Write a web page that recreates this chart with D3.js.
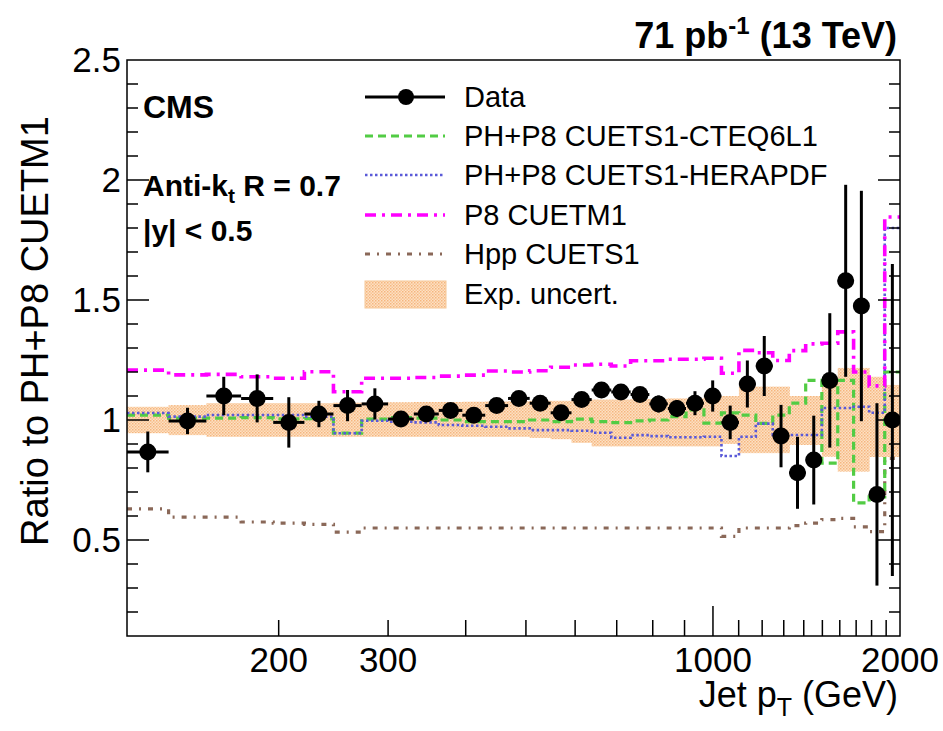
<!DOCTYPE html>
<html><head><meta charset="utf-8">
<script src="https://cdn.jsdelivr.net/npm/d3@7"></script>
<style>
html,body{margin:0;padding:0;background:#fff;}
svg{display:block;font-family:"Liberation Sans",Arial,Helvetica,sans-serif;}
</style></head>
<body><svg id="c" width="943" height="731"></svg>
<script>
// Bin edges (GeV)
const binEdges = [114,133,153,174,196,220,245,272,300,330,362,395,430,468,507,548,592,638,686,737,790,846,905,967,1032,1101,1172,1248,1327,1410,1497,1588,1684,1784,1890,2000];
// Data ratio and error
const dataRatio = [0.867,0.996,1.10,1.09,0.99,1.025,1.06,1.067,1.004,1.025,1.04,1.02,1.06,1.09,1.07,1.03,1.085,1.125,1.117,1.106,1.067,1.048,1.07,1.10,0.99,1.15,1.225,0.933,0.78,0.833,1.165,1.58,1.475,0.69,1.0];
const dataErr   = [0.085,0.055,0.08,0.10,0.105,0.055,0.065,0.065,0.03,0.03,0.03,0.03,0.03,0.03,0.03,0.03,0.03,0.03,0.03,0.03,0.035,0.035,0.05,0.065,0.07,0.098,0.125,0.13,0.15,0.185,0.28,0.40,0.48,0.38,0.65];
// MC predictions (ratio to PH+P8 CUETM1)
const cteq6l1 = [1.02,1.008,1.008,1.01,1.005,1.006,0.945,1.004,1.01,1.008,1.0,0.993,0.993,0.993,1.0,0.993,1.004,0.993,0.989,0.996,1.0,1.014,1.042,0.987,1.03,1.02,0.986,1.02,1.07,1.165,0.82,1.165,0.655,0.68,1.2];
const herapdf = [1.029,1.014,1.021,1.021,1.021,1.014,0.945,0.997,0.993,0.99,0.979,0.976,0.972,0.965,0.958,0.958,0.955,0.947,0.926,0.937,0.933,0.928,0.928,0.93,0.85,0.93,0.985,0.9375,0.9375,0.9375,1.05,1.05,1.055,1.03,1.8];
const p8cuetm1 = [1.208,1.188,1.19,1.18,1.174,1.201,1.118,1.174,1.174,1.177,1.183,1.187,1.204,1.2,1.205,1.22,1.229,1.232,1.225,1.247,1.247,1.253,1.253,1.257,1.195,1.29,1.28,1.248,1.289,1.317,1.32,1.367,1.2,1.142,1.846];
const hppcuets1 = [0.63,0.595,0.595,0.575,0.57,0.565,0.533,0.55,0.55,0.55,0.55,0.55,0.55,0.55,0.55,0.55,0.55,0.55,0.55,0.55,0.55,0.55,0.55,0.55,0.515,0.55,0.55,0.55,0.56,0.57,0.585,0.59,0.555,0.535,0.84];
// Experimental uncertainty band
const bandLow  = [0.945,0.937,0.93,0.93,0.93,0.93,0.93,0.93,0.93,0.93,0.93,0.93,0.93,0.93,0.925,0.92,0.905,0.89,0.89,0.89,0.89,0.89,0.89,0.89,0.90,0.862,0.862,0.862,0.896,0.896,0.847,0.785,0.785,0.846,0.846];
const bandHigh = [1.055,1.062,1.07,1.07,1.07,1.07,1.072,1.072,1.074,1.075,1.075,1.076,1.077,1.078,1.08,1.08,1.082,1.085,1.085,1.087,1.088,1.09,1.09,1.10,1.10,1.139,1.139,1.139,1.10,1.10,1.154,1.217,1.217,1.18,1.146];
// Axis ticks
const xTickLabels = [200,300,1000,2000];
const xMinorTicks = [200,300,400,500,600,700,800,900,1100,1200,1300,1400,1500,1600,1700,1800,1900];
const xMajorTicks = [1000];
const yTickLabels = [0.5,1,1.5,2,2.5];
const legendLabels = ["Data","PH+P8 CUETS1-CTEQ6L1","PH+P8 CUETS1-HERAPDF","P8 CUETM1","Hpp CUETS1","Exp. uncert."];

const svg = d3.select("#c");
const L=127, R=900, T=60, B=636;
const x = d3.scaleLog().domain([114,2000]).range([L,R]);
const y = d3.scaleLinear().domain([0.1,2.5]).range([B,T]);

const defs = svg.append("defs");
const pat = defs.append("pattern").attr("id","hatch").attr("patternUnits","userSpaceOnUse").attr("width",3).attr("height",3);
pat.append("rect").attr("width",3).attr("height",3).attr("fill","#fde0c4");
pat.append("rect").attr("x",0).attr("y",0).attr("width",1.5).attr("height",1.5).attr("fill","#f5b67e");
pat.append("rect").attr("x",1.5).attr("y",1.5).attr("width",1.5).attr("height",1.5).attr("fill","#f8c594");
defs.append("clipPath").attr("id","clip").append("rect").attr("x",L).attr("y",T).attr("width",R-L).attr("height",B-T);

const bins = d3.range(binEdges.length-1).map(i=>({lo:binEdges[i],hi:binEdges[i+1],i}));
const plot = svg.append("g").attr("clip-path","url(#clip)");

// band
plot.selectAll("rect.band").data(bins).enter().append("rect")
  .attr("x",d=>x(d.lo)).attr("width",d=>x(d.hi)-x(d.lo)+0.5)
  .attr("y",d=>y(bandHigh[d.i])).attr("height",d=>y(bandLow[d.i])-y(bandHigh[d.i]))
  .attr("fill","url(#hatch)");

function stepPts(vals){
  const pts=[];
  bins.forEach(b=>{pts.push([b.lo,vals[b.i]]);pts.push([b.hi,vals[b.i]]);});
  return pts;
}
const line = d3.line().x(d=>x(d[0])).y(d=>y(d[1]));
const series = [
  {vals:hppcuets1, color:"#8a6858", dash:"5,7,2,7", w:3.2},
  {vals:cteq6l1, color:"#52cc44", dash:"8,5", w:3.2},
  {vals:herapdf, color:"#5a5ad8", dash:"2.5,2.5", w:2.6},
  {vals:p8cuetm1, color:"#ff00ff", dash:"11,6,3,6", w:3.6},
];
series.forEach(s=>{
  plot.append("path").attr("d",line(stepPts(s.vals))).attr("fill","none")
    .attr("stroke",s.color).attr("stroke-width",s.w).attr("stroke-dasharray",s.dash);
});

// data
const dg = plot.append("g");
bins.forEach(b=>{
  const cx=(x(b.lo)+x(b.hi))/2, v=dataRatio[b.i], e=dataErr[b.i];
  dg.append("line").attr("x1",x(b.lo)).attr("x2",x(b.hi)).attr("y1",y(v)).attr("y2",y(v)).attr("stroke","#000").attr("stroke-width",3);
  dg.append("line").attr("x1",cx).attr("x2",cx).attr("y1",y(v-e)).attr("y2",y(v+e)).attr("stroke","#000").attr("stroke-width",3);
  dg.append("circle").attr("cx",cx).attr("cy",y(v)).attr("r",8.5).attr("fill","#000");
});

// frame
svg.append("rect").attr("x",L).attr("y",T).attr("width",R-L).attr("height",B-T).attr("fill","none").attr("stroke","#000").attr("stroke-width",1.5);

// y ticks
const yMinor = d3.range(2,25).map(k=>k/10);
yMinor.forEach(v=>{
  const major = yTickLabels.some(t=>Math.abs(t-v)<1e-6);
  const len = major?22:11;
  svg.append("line").attr("x1",L).attr("x2",L+len).attr("y1",y(v)).attr("y2",y(v)).attr("stroke","#000").attr("stroke-width",1.5);
  svg.append("line").attr("x1",R-len).attr("x2",R).attr("y1",y(v)).attr("y2",y(v)).attr("stroke","#000").attr("stroke-width",1.5);
});
yTickLabels.forEach(v=>{
  svg.append("text").attr("x",121).attr("y",y(v)+12).attr("text-anchor","end").attr("font-size",35).text(String(v));
});
// x ticks
xMinorTicks.forEach(v=>{
  svg.append("line").attr("x1",x(v)).attr("x2",x(v)).attr("y1",B).attr("y2",B-16).attr("stroke","#000").attr("stroke-width",1.5);
});
xMajorTicks.forEach(v=>{
  svg.append("line").attr("x1",x(v)).attr("x2",x(v)).attr("y1",B).attr("y2",B-30).attr("stroke","#000").attr("stroke-width",1.5);
});
xTickLabels.forEach(v=>{
  svg.append("text").attr("x",x(v)).attr("y",672).attr("text-anchor","middle").attr("font-size",35).text(String(v));
});

// axis titles
const xt = svg.append("text").attr("x",898).attr("y",707).attr("text-anchor","end").attr("font-size",36);
xt.append("tspan").text("Jet p");
xt.append("tspan").attr("font-size",25).attr("dy",9).text("T");
xt.append("tspan").attr("dy",-9).text(" (GeV)");
svg.append("text").attr("transform","translate(48,331) rotate(-90)").attr("text-anchor","middle").attr("font-size",38).text("Ratio to PH+P8 CUETM1");

// top label
const tl = svg.append("text").attr("x",897).attr("y",48).attr("text-anchor","end").attr("font-size",36).attr("font-weight","bold");
tl.append("tspan").text("71 pb");
tl.append("tspan").attr("font-size",24).attr("dy",-14).text("-1");
tl.append("tspan").attr("dy",14).text(" (13 TeV)");

svg.append("text").attr("x",143).attr("y",118).attr("font-size",32).attr("font-weight","bold").text("CMS");
const ak = svg.append("text").attr("x",143).attr("y",196).attr("font-size",30).attr("font-weight","bold");
ak.append("tspan").text("Anti-k");
ak.append("tspan").attr("font-size",21).attr("dy",7).text("t");
ak.append("tspan").attr("dy",-7).text(" R = 0.7");
svg.append("text").attr("x",143).attr("y",241).attr("font-size",30).attr("font-weight","bold").text("|y| < 0.5");

// legend
const rows = [97,136,175,215,254,294];
const lg = svg.append("g");
legendLabels.forEach((t,i)=>{
  lg.append("text").attr("x",464).attr("y",rows[i]+10).attr("font-size",29).text(t);
});
lg.append("line").attr("x1",365).attr("x2",445).attr("y1",rows[0]).attr("y2",rows[0]).attr("stroke","#000").attr("stroke-width",3);
lg.append("circle").attr("cx",406).attr("cy",rows[0]).attr("r",8).attr("fill","#000");
const legSeries=[series[1],series[2],series[3],series[0]];
legSeries.forEach((s,i)=>{
  lg.append("line").attr("x1",365).attr("x2",445).attr("y1",rows[i+1]).attr("y2",rows[i+1])
    .attr("stroke",s.color).attr("stroke-width",s.w).attr("stroke-dasharray",s.dash);
});
lg.append("rect").attr("x",365).attr("y",rows[5]-13).attr("width",81).attr("height",27).attr("fill","url(#hatch)").attr("stroke","#f6c898").attr("stroke-width",1);
</script></body></html>
